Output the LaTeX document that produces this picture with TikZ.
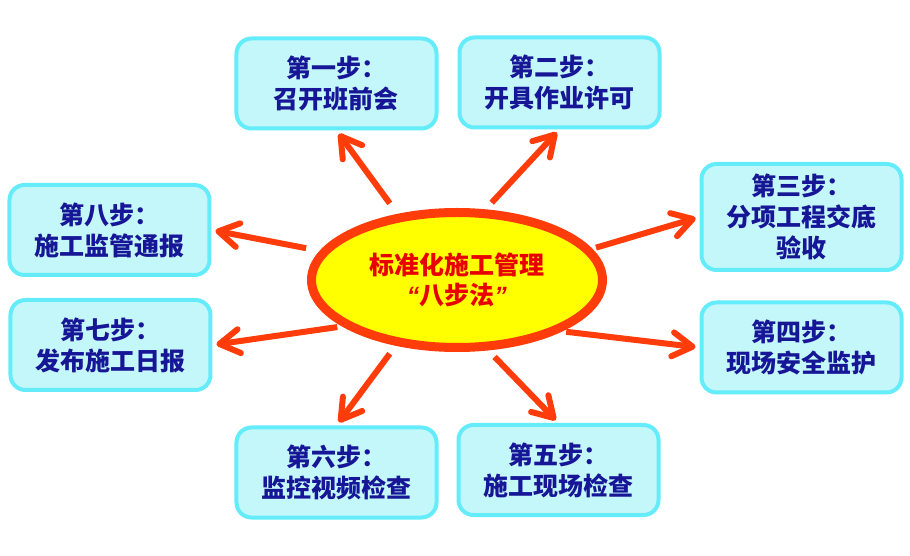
\documentclass[tikz,border=0pt]{standalone}
\usepackage{fontspec}
\usepackage{tikz}
\usetikzlibrary{positioning,shapes.geometric,arrows.meta}
\newfontfamily\cjk{Noto Sans CJK SC}
\newfontfamily\qfont{Liberation Sans}
\definecolor{boxfill}{RGB}{196,247,250}
\definecolor{boxline}{RGB}{100,236,250}
\definecolor{stepblue}{RGB}{22,22,150}
\definecolor{hubred}{RGB}{255,60,10}
\definecolor{hubyellow}{RGB}{255,255,0}
\definecolor{titlered}{RGB}{232,0,0}

\begin{document}
\begin{tikzpicture}[x=1pt,y=1pt,every node/.style={on grid},
    stepbox/.style={draw=boxline,fill=boxfill,line width=4pt,rounded corners=15pt,
      minimum width=200pt,minimum height=90pt,align=center,text=stepblue,
      font=\cjk\bfseries\fontsize{25}{31}\selectfont},
    hub/.style={ellipse,draw=hubred,fill=hubyellow,line width=9pt,
      minimum width=291pt,minimum height=135pt,inner sep=0pt,align=center,
      text=titlered,font=\cjk\bfseries\fontsize{25}{30}\selectfont},
    arr/.style={draw=hubred,line width=6pt,shorten >=4pt,
      -{Straight Barb[length=20pt,width=24pt,round]}}]
    \useasboundingbox (-457,-276) rectangle (453,280);
    \node[hub] (M) at (0,0) {标准化施工管理\\{\qfont\itshape “}八步法{\qfont\itshape ”}};
    \node[stepbox,above left=196.5pt and 120.5pt of M] (S1) {第一步：\\召开班前会};
    \node[stepbox,above right=197.5pt and 102.5pt of M] (S2) {第二步：\\开具作业许可};
    \node[stepbox,minimum height=106pt,above right=63pt and 344.5pt of M] (S3) {第三步：\\分项工程交底\\验收};
    \node[stepbox,below right=67.5pt and 344.5pt of M] (S4) {第四步：\\现场安全监护};
    \node[stepbox,below right=190pt and 101.5pt of M] (S5) {第五步：\\施工现场检查};
    \node[stepbox,below left=192.5pt and 120.5pt of M] (S6) {第六步：\\监控视频检查};
    \node[stepbox,below left=65pt and 346.5pt of M] (S7) {第七步：\\发布施工日报};
    \node[stepbox,above left=50pt and 347.5pt of M] (S8) {第八步：\\施工监管通报};
    \draw[arr,shorten <=13pt] (M.132) -- (S1.south);
    \draw[arr,shorten <=9pt] (M.68) -- (S2.south);
    \draw[arr,shorten <=4pt] (M.13.5) -- (S3.west);
    \draw[arr,shorten <=4pt] (M.-26) -- (S4.west);
    \draw[arr,shorten <=9pt] (M.-66) -- (S5.north);
    \draw[arr,shorten <=10pt] (M.-133) -- (S6.north);
    \draw[arr,shorten <=5pt] (M.-158.3) -- (S7.east);
    \draw[arr,shorten <=14pt] (M.168.5) -- (S8.east);
  \end{tikzpicture}
\end{document}
